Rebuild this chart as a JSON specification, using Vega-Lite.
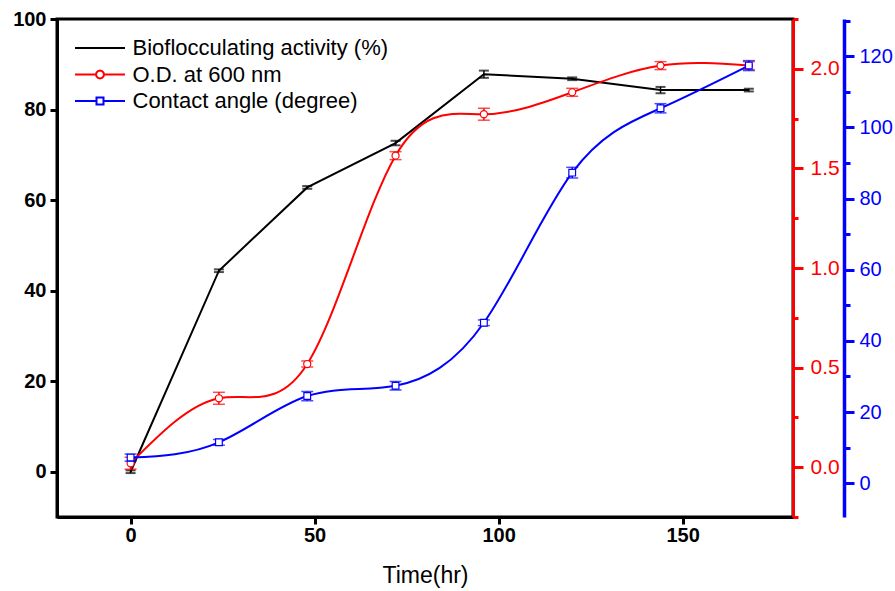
{
  "$schema": "https://vega.github.io/schema/vega-lite/v6.json",
  "width": 736,
  "height": 498,
  "autosize": {"type": "none"},
  "padding": {"left": 57, "top": 19, "right": 102, "bottom": 74},
  "background": "white",
  "data": {
    "values": [
      {"s": "bio", "t": 0, "v": 0, "e": 0.3},
      {"s": "bio", "t": 24, "v": 44.4, "e": 0.3},
      {"s": "bio", "t": 48, "v": 62.8, "e": 0.3},
      {"s": "bio", "t": 72, "v": 72.6, "e": 0.5},
      {"s": "bio", "t": 96, "v": 87.8, "e": 0.8},
      {"s": "bio", "t": 120, "v": 86.8, "e": 0.3},
      {"s": "bio", "t": 144, "v": 84.3, "e": 0.7},
      {"s": "bio", "t": 168, "v": 84.3, "e": 0.3},
      {"s": "od", "t": 0, "v": 0.02, "e": 0.03},
      {"s": "od", "t": 24, "v": 0.346, "e": 0.03},
      {"s": "od", "t": 48, "v": 0.518, "e": 0.015},
      {"s": "od", "t": 72, "v": 1.564, "e": 0.02},
      {"s": "od", "t": 96, "v": 1.772, "e": 0.03},
      {"s": "od", "t": 120, "v": 1.882, "e": 0.02},
      {"s": "od", "t": 144, "v": 2.016, "e": 0.02},
      {"s": "od", "t": 168, "v": 2.016, "e": 0.02},
      {"s": "ca", "t": 0, "v": 7.2, "e": 1.0},
      {"s": "ca", "t": 24, "v": 11.5, "e": 0.8},
      {"s": "ca", "t": 48, "v": 24.5, "e": 1.3},
      {"s": "ca", "t": 72, "v": 27.4, "e": 1.2},
      {"s": "ca", "t": 96, "v": 45.1, "e": 0.8},
      {"s": "ca", "t": 120, "v": 87.3, "e": 1.5},
      {"s": "ca", "t": 144, "v": 105.4, "e": 1.3},
      {"s": "ca", "t": 168, "v": 117.4, "e": 1.4}
    ]
  },
  "encoding": {
    "x": {
      "field": "t",
      "type": "quantitative",
      "scale": {"domain": [-20, 180], "nice": false, "zero": false},
      "axis": {
        "title": "Time(hr)",
        "values": [0, 50, 100, 150],
        "format": "d",
        "labelFont": "Liberation Sans",
        "labelFontWeight": "bold",
        "labelFontSize": 20,
        "labelColor": "black",
        "labelPadding": 1,
        "tickSize": 7,
        "tickWidth": 3,
        "tickColor": "black",
        "domainColor": "black",
        "domainWidth": 3,
        "titleFont": "Liberation Sans",
        "titleFontWeight": "normal",
        "titleFontSize": 23,
        "titleColor": "black",
        "titlePadding": 19,
        "grid": false
      }
    }
  },
  "layer": [
    {
      "transform": [{"filter": "datum.s == 'bio'"}],
      "encoding": {
        "y": {
          "field": "v",
          "type": "quantitative",
          "scale": {"domain": [-10, 100], "nice": false, "zero": false},
          "axis": {
            "orient": "left",
            "title": null,
            "values": [0, 20, 40, 60, 80, 100],
            "format": "d",
            "labelFont": "Liberation Sans",
            "labelFontWeight": "bold",
            "labelFontSize": 20,
            "labelColor": "black",
            "labelPadding": 4,
            "tickSize": 7,
            "tickWidth": 3,
            "tickColor": "black",
            "domainColor": "black",
            "domainWidth": 3,
            "grid": false
          }
        }
      },
      "layer": [
        {"mark": {"type": "line", "color": "black", "strokeWidth": 2}},
        {
          "mark": {"type": "errorbar", "color": "black", "ticks": {"size": 10, "thickness": 2}, "rule": {"strokeWidth": 1.5}},
          "encoding": {"yError": {"field": "e"}}
        }
      ]
    },
    {
      "transform": [{"filter": "datum.s == 'od'"}],
      "encoding": {
        "y": {
          "field": "v",
          "type": "quantitative",
          "scale": {"domain": [-0.25, 2.25], "nice": false, "zero": false},
          "axis": {
            "orient": "right",
            "title": null,
            "values": [-0.25, 0, 0.25, 0.5, 0.75, 1, 1.25, 1.5, 1.75, 2, 2.25],
            "labelExpr": "abs(datum.value*2 - round(datum.value*2)) < 0.001 ? format(datum.value, '.1f') : ''",
            "labelFont": "Liberation Sans",
            "labelFontSize": 21,
            "labelColor": "red",
            "labelPadding": 7,
            "labelOverlap": false,
            "labelBound": false,
            "tickSize": {"condition": {"test": "abs(datum.value*2 - round(datum.value*2)) < 0.001", "value": 10}, "value": 5},
            "tickWidth": 3,
            "tickColor": "red",
            "domainColor": "red",
            "domainWidth": 3,
            "grid": false
          }
        }
      },
      "layer": [
        {"mark": {"type": "line", "color": "red", "strokeWidth": 2, "interpolate": "natural"}},
        {
          "mark": {"type": "errorbar", "color": "red", "ticks": {"size": 12, "thickness": 1.5}, "rule": {"strokeWidth": 1.5}},
          "encoding": {"yError": {"field": "e"}}
        },
        {"mark": {"type": "point", "shape": "circle", "size": 50, "filled": true, "fill": "white", "stroke": "red", "strokeWidth": 1.2, "opacity": 1}}
      ]
    },
    {
      "transform": [{"filter": "datum.s == 'ca'"}],
      "encoding": {
        "y": {
          "field": "v",
          "type": "quantitative",
          "scale": {"domain": [-9.5, 130.5], "nice": false, "zero": false},
          "axis": {
            "orient": "right",
            "offset": 51,
            "title": null,
            "values": [-10, 0, 10, 20, 30, 40, 50, 60, 70, 80, 90, 100, 110, 120, 130],
            "labelExpr": "datum.value % 20 === 0 ? format(datum.value, 'd') : ''",
            "labelFont": "Liberation Sans",
            "labelFontSize": 20,
            "labelColor": "blue",
            "labelPadding": 5,
            "labelOverlap": false,
            "labelBound": false,
            "tickSize": {"condition": {"test": "datum.value % 20 === 0", "value": 10}, "value": 6},
            "tickWidth": 3,
            "tickColor": "blue",
            "domainColor": "blue",
            "domainWidth": 3.5,
            "grid": false
          }
        }
      },
      "layer": [
        {"mark": {"type": "line", "color": "blue", "strokeWidth": 2, "interpolate": "natural"}},
        {
          "mark": {"type": "errorbar", "color": "blue", "ticks": {"size": 12, "thickness": 1.5}, "rule": {"strokeWidth": 1.5}},
          "encoding": {"yError": {"field": "e"}}
        },
        {"mark": {"type": "point", "shape": "square", "size": 45, "filled": true, "fill": "white", "stroke": "blue", "strokeWidth": 1.2, "opacity": 1}}
      ]
    },
    {
      "transform": [{"filter": "false"}],
      "mark": {"type": "point", "filled": false, "strokeWidth": 2},
      "encoding": {
        "stroke": {
          "field": "series",
          "type": "nominal",
          "scale": {"domain": ["Bioflocculating activity (%)", "O.D. at 600 nm", "Contact angle (degree)"], "range": ["black", "red", "blue"]},
          "legend": {"title": null, "orient": "none", "legendX": 32, "legendY": 18, "labelFont": "Liberation Sans", "labelFontSize": 22, "labelColor": "black", "symbolSize": 100, "symbolStrokeWidth": 2, "symbolOpacity": 1, "rowPadding": 4.5, "padding": 0, "labelOffset": 21.5, "labelLimit": 500}
        },
        "shape": {
          "field": "series",
          "type": "nominal",
          "scale": {
            "domain": ["Bioflocculating activity (%)", "O.D. at 600 nm", "Contact angle (degree)"],
            "range": [
              "M-5,0H5",
              "M-5,0H-0.8M0.8,0L0.693,0.4L0.4,0.693L0,0.8L-0.4,0.693L-0.693,0.4L-0.8,0L-0.693,-0.4L-0.4,-0.693L0,-0.8L0.4,-0.693L0.693,-0.4ZM0.8,0H5",
              "M-5,0H-0.7M-0.7,-0.7H0.7V0.7H-0.7ZM0.7,0H5"
            ]
          },
          "legend": {"title": null, "orient": "none", "legendX": 32, "legendY": 18, "labelFont": "Liberation Sans", "labelFontSize": 22, "labelColor": "black", "symbolSize": 100, "symbolStrokeWidth": 2, "symbolOpacity": 1, "rowPadding": 4.5, "padding": 0, "labelOffset": 21.5, "labelLimit": 500}
        }
      }
    }
  ],
  "resolve": {"scale": {"y": "independent"}, "axis": {"y": "independent"}},
  "config": {
    "view": {"stroke": "black", "strokeWidth": 3},
    "axis": {"grid": false}
  }
}
